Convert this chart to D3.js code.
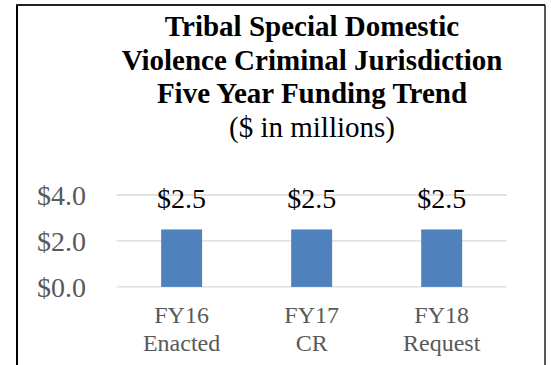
<!DOCTYPE html>
<html>
<head>
<meta charset="utf-8">
<script src="https://cdn.jsdelivr.net/npm/d3@7"></script>
<style>
  html, body { margin: 0; padding: 0; background: #fff; }
  svg { display: block; }
  text { font-family: "Liberation Serif", "Times New Roman", serif; }
</style>
</head>
<body>
<svg id="chart" width="551" height="365"></svg>
<script>
// Funding by fiscal year ($ in millions)
const categories = ["FY16 Enacted", "FY17 CR", "FY18 Request"];
const categoryLines = [["FY16", "Enacted"], ["FY17", "CR"], ["FY18", "Request"]];
const values = [2.5, 2.5, 2.5];
const yTicks = [0, 2, 4];
const titleLines = ["Tribal Special Domestic", "Violence Criminal Jurisdiction", "Five Year Funding Trend"];
const subtitle = "($ in millions)";

const svg = d3.select("#chart");

// Outer frame: left/top/right edges (bottom runs off the page)
const frame = { left: 17, top: 5, right: 545 };
svg.append("line")
  .attr("x1", frame.left).attr("x2", frame.left)
  .attr("y1", frame.top - 1).attr("y2", 365)
  .attr("stroke", "#000").attr("stroke-width", 2);
svg.append("line")
  .attr("x1", frame.left - 1).attr("x2", frame.right)
  .attr("y1", frame.top).attr("y2", frame.top)
  .attr("stroke", "#222").attr("stroke-width", 2);
svg.append("line")
  .attr("x1", frame.right).attr("x2", frame.right)
  .attr("y1", frame.top).attr("y2", 365)
  .attr("stroke", "#222").attr("stroke-width", 1.5);

// Title block
const titleX = 312;
svg.append("g").selectAll("text")
  .data(titleLines)
  .join("text")
  .attr("x", titleX)
  .attr("y", (d, i) => 36 + i * 33.5)
  .attr("text-anchor", "middle")
  .attr("font-size", 29)
  .attr("font-weight", "bold")
  .attr("fill", "#000")
  .text(d => d);

svg.append("text")
  .attr("x", titleX)
  .attr("y", 137)
  .attr("text-anchor", "middle")
  .attr("font-size", 29)
  .attr("fill", "#000")
  .text(subtitle);

// Plot area
const plot = { left: 116.6, right: 506.7, top: 195, bottom: 286.9 };

const x = d3.scaleBand()
  .domain(categories)
  .range([plot.left, plot.right])
  .paddingInner(0.685)
  .paddingOuter(0.3425);

const y = d3.scaleLinear()
  .domain([0, 4])
  .range([plot.bottom, plot.top]);

// Gridlines
svg.append("g").selectAll("line")
  .data(yTicks)
  .join("line")
  .attr("x1", plot.left).attr("x2", plot.right)
  .attr("y1", d => y(d)).attr("y2", d => y(d))
  .attr("stroke", "#d9d9d9")
  .attr("stroke-width", 1.3);

// Y axis labels
const yAxis = d3.axisLeft(y)
  .tickValues(yTicks)
  .tickSize(0)
  .tickPadding(0)
  .tickFormat(d => "$" + d3.format(".1f")(d));

svg.append("g")
  .attr("transform", `translate(86,0)`)
  .call(yAxis)
  .call(g => g.select(".domain").remove())
  .call(g => g.selectAll("text")
    .attr("font-family", "Liberation Serif, Times New Roman, serif")
    .attr("font-size", 28)
    .attr("fill", "#595959")
    .attr("dy", "0.33em"));

// Bars
svg.append("g").selectAll("rect")
  .data(values)
  .join("rect")
  .attr("x", (d, i) => x(categories[i]))
  .attr("width", x.bandwidth())
  .attr("y", d => y(d))
  .attr("height", d => y(0) - y(d))
  .attr("fill", "#4f81bd");

// Value labels
svg.append("g").selectAll("text")
  .data(values)
  .join("text")
  .attr("x", (d, i) => x(categories[i]) + x.bandwidth() / 2)
  .attr("y", 208)
  .attr("text-anchor", "middle")
  .attr("font-size", 28)
  .attr("fill", "#000")
  .text(d => "$" + d3.format(".1f")(d));

// Category labels (two lines each)
const catG = svg.append("g").selectAll("text")
  .data(categoryLines)
  .join("text")
  .attr("text-anchor", "middle")
  .attr("font-size", 24)
  .attr("fill", "#595959");

catG.selectAll("tspan")
  .data((d, i) => d.map(t => ({ t, i })))
  .join("tspan")
  .attr("x", d => x(categories[d.i]) + x.bandwidth() / 2)
  .attr("y", (d, j) => 323 + j * 28)
  .text(d => d.t);
</script>
</body>
</html>
